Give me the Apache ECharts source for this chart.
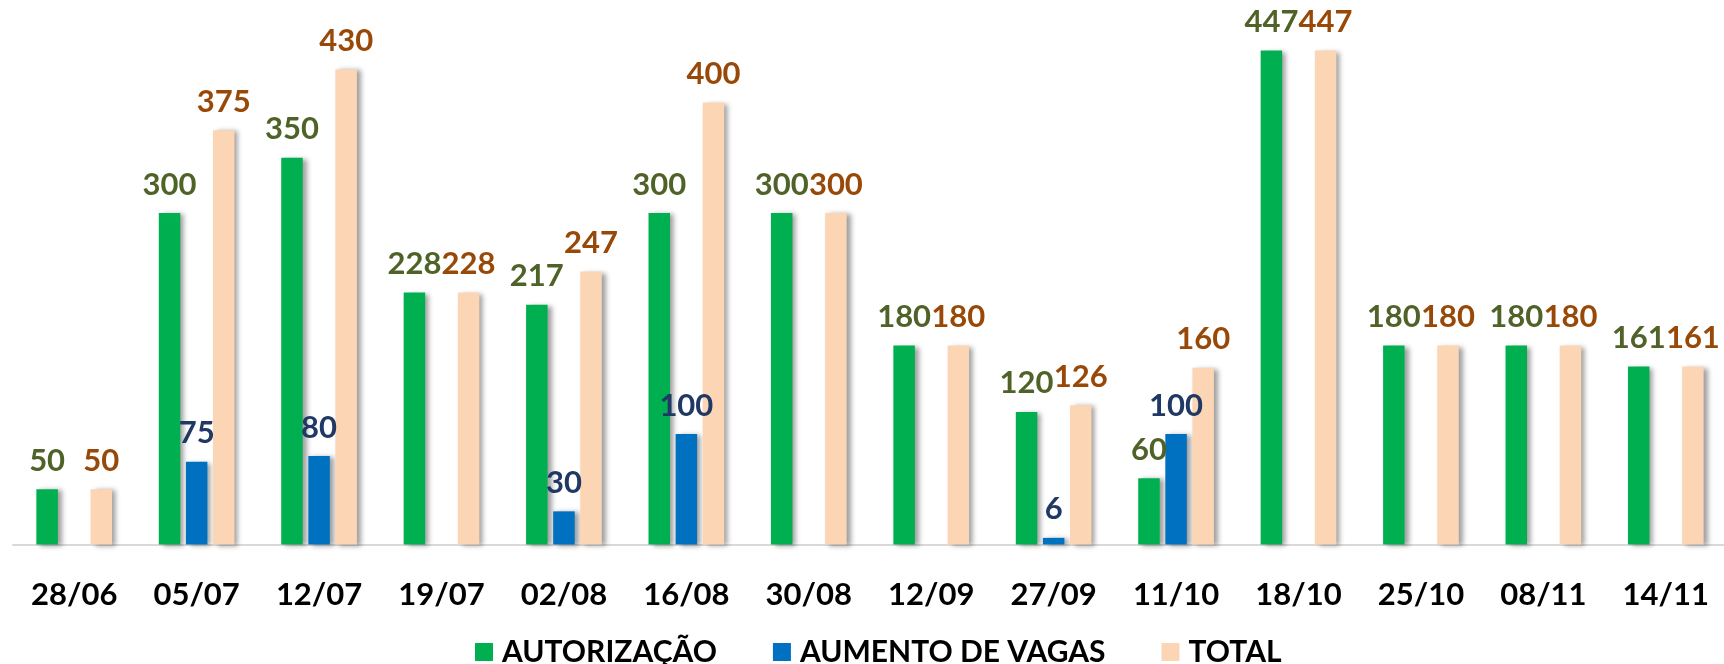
<!DOCTYPE html>
<html>
<head>
<meta charset="utf-8">
<script src="https://cdn.jsdelivr.net/npm/echarts@6/dist/echarts.min.js"></script>
<style>
html,body{margin:0;padding:0;background:#fff;}
#chart{width:1724px;height:664px;}
</style>
</head>
<body>
<div id="chart"></div>
<script>
const categories = ['28/06','05/07','12/07','19/07','02/08','16/08','30/08','12/09','27/09','11/10','18/10','25/10','08/11','14/11'];
const autorizacao = [50,300,350,228,217,300,300,180,120,60,447,180,180,161];
const aumentoVagas = [null,75,80,null,30,100,null,null,6,100,null,null,null,null];
const total = [50,375,430,228,247,400,300,180,126,160,447,180,180,161];
const seriesNames = ['AUTORIZAÇÃO','AUMENTO DE VAGAS','TOTAL'];

const FONT = 'Lato';
const shadow = {shadowColor:'rgba(0,0,0,0.38)', shadowBlur:5, shadowOffsetX:4, shadowOffsetY:1};

function mkSeries(name, data, color, labelColor){
  return {
    name: name, type:'bar', data: data,
    barWidth: 21.5, barGap:'26%',
    itemStyle: Object.assign({color: color}, shadow),
    label:{show:true, position:'top', distance:13, color: labelColor,
      fontFamily: FONT, fontWeight:'bold', fontSize:31},
    emphasis:{disabled:true}
  };
}

const chart = echarts.init(document.getElementById('chart'), null, {renderer:'canvas'});
chart.setOption({
  animation:false,
  backgroundColor:'#ffffff',
  textStyle:{fontFamily:FONT},
  grid:{left:13, width:1714, top:47.3, bottom:119.5, containLabel:false, outerBoundsMode:'none'},
  legend:{
    data: seriesNames,
    left: 470, top: 632,
    itemWidth:18, itemHeight:18, itemGap:56,
    icon:'rect',
    itemStyle:{shadowBlur:0, shadowOffsetX:0, shadowOffsetY:0},
    textStyle:{fontFamily:FONT, fontWeight:'bold', fontSize:30, color:'#000', padding:[0,0,0,4]}
  },
  xAxis:{
    type:'category', data:categories,
    axisTick:{show:false},
    axisLine:{lineStyle:{color:'#D9D9D9', width:2}},
    axisLabel:{margin:35, color:'#000', fontFamily:FONT, fontWeight:'bold', fontSize:31, interval:0}
  },
  yAxis:{type:'value', min:0, max:450, show:false, splitLine:{show:false}},
  series:[
    mkSeries(seriesNames[0], autorizacao, '#00B050', '#4F6228'),
    mkSeries(seriesNames[1], aumentoVagas, '#0070C0', '#1F3864'),
    mkSeries(seriesNames[2], total, '#FCD5B5', '#984807')
  ]
});
</script>
</body>
</html>
